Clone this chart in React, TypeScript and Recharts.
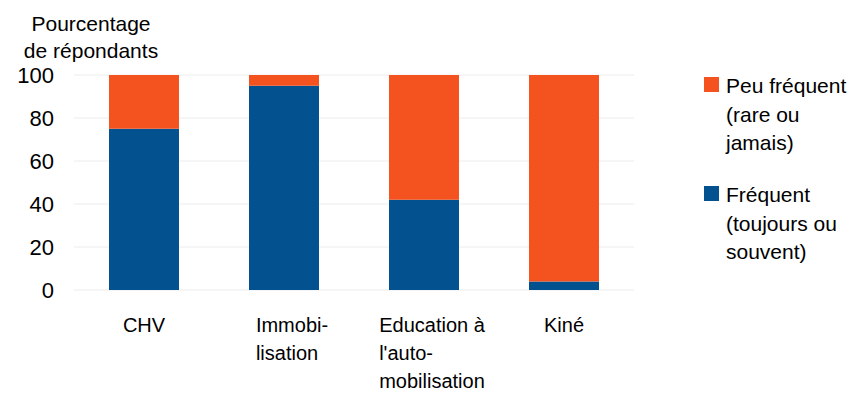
import { Bar, BarChart, CartesianGrid, XAxis, YAxis } from "recharts"

const categories = ["CHV", "Immobi-\nlisation", "Education à\nl'auto-\nmobilisation", "Kiné"]
const frequent = [75, 95, 42, 4]
const peuFrequent = [25, 5, 58, 96]
const yTicks = [0, 20, 40, 60, 80, 100]

const seriesNames = ["Peu fréquent\n(rare ou\njamais)", "Fréquent\n(toujours ou\nsouvent)"]
const seriesColors = ["#F4521E", "#03518F"]

const chartData = categories.map((name, i) => ({
  name,
  frequent: frequent[i],
  peuFrequent: peuFrequent[i],
}))

const FONT = "'Liberation Sans', Arial, sans-serif"

let ctx: CanvasRenderingContext2D | null = null
function textWidth(s: string) {
  if (!ctx) ctx = document.createElement("canvas").getContext("2d")
  if (!ctx) return s.length * 10
  ctx.font = "20px 'Liberation Sans'"
  return ctx.measureText(s).width
}

function CategoryTick(props: any) {
  const { x, y, payload } = props
  const lines = String(payload.value).split("\n")
  const multi = lines.length > 1
  const w = Math.max(...lines.map(textWidth))
  const x0 = multi ? x - w / 2 + 8 : x
  return (
    <text x={x0} y={y} textAnchor={multi ? "start" : "middle"} fontSize={20} fill="#000" fontFamily={FONT}>
      {lines.map((l, i) => (
        <tspan key={i} x={x0} dy={i === 0 ? 42 : 28}>{l}</tspan>
      ))}
    </text>
  )
}

function App() {
  return (
    <div style={{ position: "absolute", left: 0, top: 0, width: 866, height: 394, background: "#fff", fontFamily: FONT }}>
      <div style={{ position: "absolute", left: 14, top: 10, width: 154, textAlign: "center", fontSize: 21, lineHeight: "27px", color: "#000" }}>
        Pourcentage<br />de répondants
      </div>
      <BarChart
        width={866}
        height={394}
        data={chartData}
        margin={{ top: 75, right: 232, bottom: 0, left: 0 }}
        barCategoryGap="25%"
      >
        <CartesianGrid vertical={false} stroke="#ececec" />
        <XAxis dataKey="name" height={104} axisLine={false} tickLine={false} tickSize={0} tickMargin={0} tick={<CategoryTick />} interval={0} />
        <YAxis
          width={74}
          domain={[0, 100]}
          ticks={yTicks}
          axisLine={false}
          tickLine={false}
          tickSize={0}
          tickMargin={20}
          tick={{ fontSize: 22, fill: "#000", fontFamily: FONT }}
        />
        <Bar dataKey="frequent" stackId="a" fill={seriesColors[1]} isAnimationActive={false} />
        <Bar dataKey="peuFrequent" stackId="a" fill={seriesColors[0]} isAnimationActive={false} />
      </BarChart>
      {seriesNames.map((name, i) => (
        <div key={name} style={{ position: "absolute", left: 704, top: i === 0 ? 72 : 181, fontSize: 21, lineHeight: "28.5px", color: "#000" }}>
          <div style={{ position: "absolute", left: 0, top: 5, width: 15, height: 15, background: seriesColors[i] }} />
          <div style={{ marginLeft: 22 }}>
            {name.split("\n").map((l) => (
              <div key={l}>{l}</div>
            ))}
          </div>
        </div>
      ))}
    </div>
  )
}

export default App
